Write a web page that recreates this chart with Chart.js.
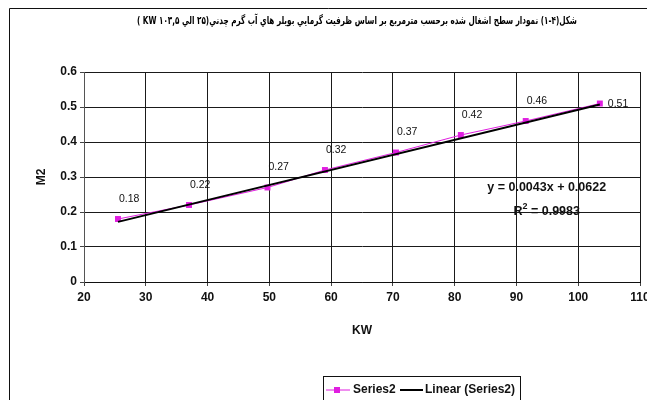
<!DOCTYPE html>
<html>
<head>
<meta charset="utf-8">
<script src="https://cdn.jsdelivr.net/npm/chart.js@4.4.1/dist/chart.umd.min.js"></script>
<style>
  body { margin: 0; background: #fff; }
  #wrap { width: 647px; height: 400px; position: relative; }
</style>
</head>
<body>
<div id="wrap"><canvas id="myChart" width="647" height="400"></canvas></div>
<script>
// data
const kw = [25.5, 37, 49.7, 59, 70.5, 81, 91.5, 103.5];
const m2 = [0.18, 0.22, 0.27, 0.32, 0.37, 0.42, 0.46, 0.51];
const xTicks = [20, 30, 40, 50, 60, 70, 80, 90, 100, 110];
const yTicks = [0, 0.1, 0.2, 0.3, 0.4, 0.5, 0.6];

// trendline as printed on the chart
const trendSlope = 0.0043;
const trendIntercept = 0.0622;
const trendText = "y = 0.0043x + 0.0622";
const r2Text = "0.9983";

const titleText = "شكل(۴-۱) نمودار سطح اشغال شده برحسب مترمربع بر اساس ظرفيت گرمايي بويلر هاي آب گرم چدني(۲۵ الي ۱۰۳,۵ KW )";

const trendX = [kw[0], kw[kw.length - 1]];
const trendPoints = trendX.map((x) => ({ x: x, y: trendSlope * x + trendIntercept }));

const magenta = "#e01ee0";
const fontFamily = "'Liberation Sans', Arial, sans-serif";

// frame, title, value labels, equation, legend
const decorPlugin = {
  id: "decor",
  beforeDraw(chart) {
    const ctx = chart.ctx;
    ctx.save();
    ctx.fillStyle = "#fff";
    ctx.fillRect(0, 0, chart.width, chart.height);
    ctx.strokeStyle = "#111";
    ctx.lineWidth = 1;
    ctx.beginPath();
    ctx.moveTo(9.5, chart.height);
    ctx.lineTo(9.5, 8.5);
    ctx.lineTo(chart.width, 8.5);
    ctx.stroke();

    // title
    ctx.direction = "rtl";
    ctx.font = "bold 11px 'DejaVu Sans', sans-serif";
    ctx.fillStyle = "#000";
    ctx.textAlign = "center";
    ctx.textBaseline = "middle";
    ctx.fillText(titleText, 357, 21, 440);
    ctx.restore();
  },
  afterDatasetsDraw(chart) {
    const ctx = chart.ctx;
    const meta = chart.getDatasetMeta(0);
    const xs = chart.scales.x;
    const ys = chart.scales.y;
    ctx.save();
    ctx.fillStyle = "#111";
    ctx.font = "10.5px " + fontFamily;
    ctx.textBaseline = "middle";
    ctx.textAlign = "left";
    meta.data.forEach((pt, i) => {
      const label = String(m2[i]);
      if (i === meta.data.length - 1) {
        ctx.fillText(label, pt.x + 8, pt.y + 1);
      } else {
        ctx.fillText(label, pt.x + 1, pt.y - 20);
      }
    });

    // equation
    ctx.fillStyle = "#111";
    ctx.textAlign = "center";
    ctx.font = "bold 12.5px " + fontFamily;
    const ex = xs.getPixelForValue(94.9);
    ctx.fillText(trendText, ex, ys.getPixelForValue(0.271));
    const ry = ys.getPixelForValue(0.2);
    const rest = " = " + r2Text;
    const wR = ctx.measureText("R").width;
    const wRest = ctx.measureText(rest).width;
    ctx.font = "bold 9px " + fontFamily;
    const w2 = ctx.measureText("2").width;
    const start = ex - (wR + w2 + wRest) / 2;
    ctx.textAlign = "left";
    ctx.font = "bold 12.5px " + fontFamily;
    ctx.fillText("R", start, ry);
    ctx.fillText(rest, start + wR + w2, ry);
    ctx.font = "bold 9px " + fontFamily;
    ctx.fillText("2", start + wR, ry - 5);
    ctx.restore();
  },
  afterDraw(chart) {
    const ctx = chart.ctx;
    ctx.save();
    // legend box
    ctx.strokeStyle = "#111";
    ctx.lineWidth = 1;
    ctx.strokeRect(323.5, 376.5, 197, 30);
    const ly = 390;
    ctx.strokeStyle = magenta;
    ctx.beginPath();
    ctx.moveTo(326, ly);
    ctx.lineTo(350, ly);
    ctx.stroke();
    ctx.fillStyle = magenta;
    ctx.fillRect(334, ly - 3, 6, 6);
    ctx.strokeStyle = "#000";
    ctx.lineWidth = 2;
    ctx.beginPath();
    ctx.moveTo(400, ly);
    ctx.lineTo(423, ly);
    ctx.stroke();
    ctx.fillStyle = "#111";
    ctx.font = "bold 12px " + fontFamily;
    ctx.textBaseline = "middle";
    ctx.fillText("Series2", 353, ly);
    ctx.fillText("Linear (Series2)", 425, ly);
    ctx.restore();
  },
};

const gridColor = "#1a1a1a";

const config = {
  type: "line",
  data: {
    datasets: [
      {
        label: "Series2",
        data: kw.map((x, i) => ({ x: x, y: m2[i] })),
        borderColor: magenta,
        backgroundColor: magenta,
        borderWidth: 1,
        pointStyle: "rect",
        pointRadius: 4.2,
        pointBorderWidth: 0,
        tension: 0,
        order: 1,
      },
      {
        label: "Linear (Series2)",
        data: trendPoints,
        borderColor: "#000",
        borderWidth: 2,
        pointRadius: 0,
        tension: 0,
        order: 0,
      },
    ],
  },
  options: {
    responsive: false,
    animation: false,
    layout: {
      padding: { left: 30, right: 7, top: 72, bottom: 62 },
    },
    plugins: {
      legend: { display: false },
      tooltip: { enabled: false },
      title: { display: false },
    },
    scales: {
      x: {
        type: "linear",
        min: 20,
        max: 110,
        afterBuildTicks: (scale) => {
          scale.ticks = xTicks.map((v) => ({ value: v }));
        },
        afterFit: (scale) => {
          scale.height = 56;
          scale.paddingLeft = 0;
          scale.paddingRight = 0;
        },
        ticks: {
          autoSkip: false,
          maxRotation: 0,
          padding: 4,
          color: "#111",
          font: { family: fontFamily, size: 12, weight: "bold" },
          callback: (v) => String(v),
        },
        grid: { color: gridColor, lineWidth: 1, tickLength: 4, tickColor: "#444" },
        border: { color: "#111", width: 1 },
        title: {
          display: true,
          text: "KW",
          color: "#111",
          font: { family: fontFamily, size: 12, weight: "bold" },
          padding: { top: 4, bottom: 0 },
        },
      },
      y: {
        min: 0,
        max: 0.6,
        afterBuildTicks: (scale) => {
          scale.ticks = yTicks.map((v) => ({ value: v }));
        },
        afterFit: (scale) => {
          scale.width = 54;
          scale.paddingTop = 0;
          scale.paddingBottom = 0;
        },
        ticks: {
          padding: 3,
          color: "#111",
          font: { family: fontFamily, size: 12, weight: "bold" },
          callback: (v) => String(v),
        },
        grid: { color: gridColor, lineWidth: 1, tickLength: 4, tickColor: "#444" },
        border: { color: "#555", width: 1 },
        title: {
          display: true,
          text: "M2",
          color: "#111",
          font: { family: fontFamily, size: 12, weight: "bold" },
          padding: { top: 4, bottom: 0 },
        },
      },
    },
  },
  plugins: [decorPlugin],
};

const ctx = document.getElementById("myChart").getContext("2d");
window.myChart = new Chart(ctx, config);
</script>
</body>
</html>
